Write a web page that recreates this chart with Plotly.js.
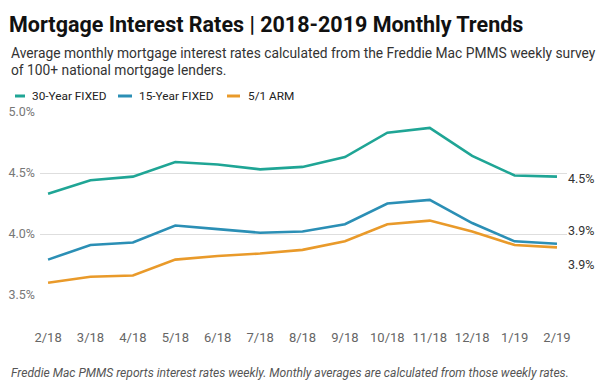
<!DOCTYPE html>
<html><head><meta charset="utf-8">
<script src="https://cdn.plot.ly/plotly-3.0.1.min.js"></script>
<style>html,body{margin:0;padding:0;background:#fff}#chart{width:600px;height:384px}</style>
</head><body><div id="chart"></div>
<script>
const months = ["2/18","3/18","4/18","5/18","6/18","7/18","8/18","9/18","10/18","11/18","12/18","1/19","2/19"];
const fixed30 = [4.33,4.44,4.47,4.59,4.57,4.53,4.55,4.63,4.83,4.87,4.64,4.48,4.47];
const fixed15 = [3.79,3.91,3.93,4.07,4.04,4.01,4.02,4.08,4.25,4.28,4.09,3.94,3.92];
const arm51   = [3.60,3.65,3.66,3.79,3.82,3.84,3.87,3.94,4.08,4.11,4.02,3.91,3.89];
const seriesNames = ["30-Year FIXED","15-Year FIXED","5/1 ARM"];
const colors = ["#1fa595","#2b8fb5","#e99a2a"];
const yTicks = [3.5,4.0,4.5,5.0];
const yTickText = ["3.5%","4.0%","4.5%","5.0%"];

const W = 600, H = 384, ML = 40, MR = 33, MT = 112, MB = 89;
const PW = W-ML-MR, PH = H-MT-MB;
const px = v => (v-ML)/PW;
const py = v => (H-MB-v)/PH;

const idx = months.map((m,i)=>i);
const all = [fixed30, fixed15, arm51];
const traces = all.map((v,k)=>({
  x: idx, y: v, type:"scatter", mode:"lines", name: seriesNames[k],
  line:{color:colors[k], width:2.6}, hoverinfo:"skip", showlegend:false
}));

const endShift = [-2, 13, -17];
const endAnn = all.map((v,k)=>({
  x: idx[idx.length-1], y: v[v.length-1], xref:"x", yref:"y",
  text: v[v.length-1].toFixed(1)+"%", showarrow:false, xanchor:"left",
  xshift: 9, yshift: endShift[k], font:{family:"Roboto", size:12.5, color:"#333"}
}));

// legend (swatch + label)
const legSw = [[15,25],[118,132],[227,240]];
const legTx = [31,138,247];
const legY = 96;
const legShapes = seriesNames.map((n,k)=>({type:"line", xref:"paper", yref:"paper",
  x0:px(legSw[k][0]), x1:px(legSw[k][1]), y0:py(legY), y1:py(legY), line:{color:colors[k], width:3}}));
const legAnn = seriesNames.map((n,k)=>({xref:"paper", yref:"paper", x:px(legTx[k]-1), y:py(legY),
  xanchor:"left", yanchor:"middle", showarrow:false, text:n, font:{family:"Roboto", size:11.8, color:"#222"}}));

const layout = {
  width:W, height:H, paper_bgcolor:"#fff", plot_bgcolor:"#fff",
  margin:{l:ML, r:MR, t:MT, b:MB},
  font:{family:"Roboto, sans-serif", color:"#555"},
  showlegend:false,
  title:{text:"<b>Mortgage Interest Rates | 2018-2019 Monthly Trends</b>", xref:"container", yref:"container",
    x:9/W, xanchor:"left", y:1-24/H, yanchor:"middle",
    font:{family:"Roboto", size:21.5, color:"#111"}},
  xaxis:{range:[-0.19, 12.236], tickmode:"array", tickvals:idx, ticktext:months,
    showgrid:false, zeroline:false, showline:false, ticks:"",
    ticklabelstandoff:33, tickfont:{family:"Roboto", size:13, color:"#666"}},
  yaxis:{range:[3.5,5.0], tickmode:"array", tickvals:yTicks, ticktext:yTickText,
    gridcolor:"#dedede", gridwidth:1, zeroline:false, showline:false, ticks:"",
    tickfont:{family:"Roboto", size:12.5, color:"#777"}, ticklabelstandoff:4},
  shapes: legShapes,
  annotations:[
    {xref:"paper", yref:"paper", x:px(9), y:py(53), xanchor:"left", yanchor:"middle", showarrow:false,
     text:"Average monthly mortgage interest rates calculated from the Freddie Mac PMMS weekly survey",
     font:{family:"Roboto", size:13.8, color:"#333"}},
    {xref:"paper", yref:"paper", x:px(9), y:py(70), xanchor:"left", yanchor:"middle", showarrow:false,
     text:"of 100+ national mortgage lenders.",
     font:{family:"Roboto", size:13.8, color:"#333"}},
    {xref:"paper", yref:"paper", x:px(9), y:py(373), xanchor:"left", yanchor:"middle", showarrow:false,
     text:"<i>Freddie Mac PMMS reports interest rates weekly. Monthly averages are calculated from those weekly rates.</i>",
     font:{family:"Roboto", size:12.1, color:"#555"}}
  ].concat(legAnn, endAnn)
};
Plotly.newPlot("chart", traces, layout, {displayModeBar:false, staticPlot:true});
</script></body></html>
